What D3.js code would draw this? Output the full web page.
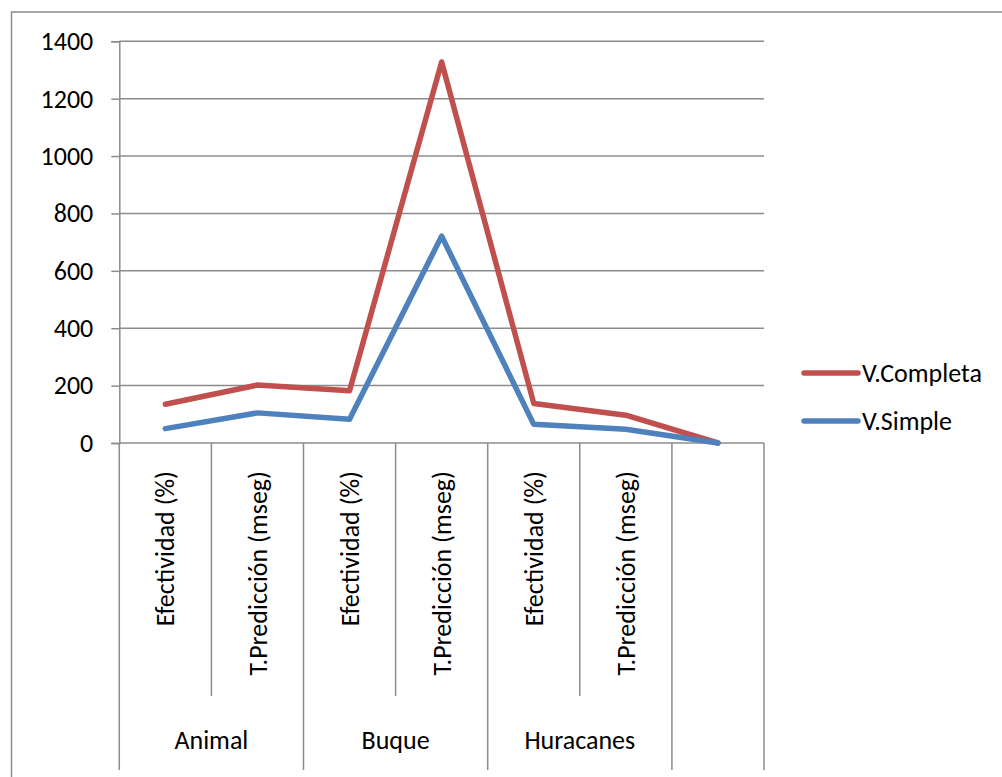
<!DOCTYPE html>
<html>
<head>
<meta charset="utf-8">
<script src="https://cdn.jsdelivr.net/npm/d3@7"></script>
<style>
  html, body { margin: 0; padding: 0; background: #fff; }
  svg { display: block; }
  text { font-family: Carlito, Lato, "Open Sans", sans-serif; fill: #000; }
</style>
</head>
<body>
<svg id="chart" width="1002" height="777"></svg>
<script>
// Category axis: groups and their sub-categories (last slot is an empty group)
const groups = ["Animal", "Buque", "Huracanes", ""];
const subLabels = ["Efectividad (%)", "T.Predicción (mseg)",
                   "Efectividad (%)", "T.Predicción (mseg)",
                   "Efectividad (%)", "T.Predicción (mseg)", ""];
const subGroup = [0, 0, 1, 1, 2, 2, 3];

// Series values
const seriesNames = ["V.Completa", "V.Simple"];
const completa = [135, 202, 182, 1328, 138, 97, 0];
const simple = [50, 105, 83, 721, 65, 48, 0];

// Value axis ticks
const yTicks = [0, 200, 400, 600, 800, 1000, 1200, 1400];

const colors = ["#C0504D", "#4F81BD"];
const gridColor = "#8c8c8c";

const svg = d3.select("#chart");
const plotLeft = 119.3, plotRight = 764, plotTop = 41.3, plotBottom = 443;
const fontSize = 26;

// Outer chart frame
svg.append("rect")
  .attr("x", 11.5).attr("y", 12)
  .attr("width", 1200).attr("height", 1200)
  .attr("fill", "none").attr("stroke", gridColor).attr("stroke-width", 1.5);

const idx = d3.range(subLabels.length);
const x = d3.scaleBand().domain(idx).range([plotLeft, plotRight]).padding(0);
const y = d3.scaleLinear().domain([0, 1400]).range([plotBottom, plotTop]);

// Value axis with gridlines
const yAxis = svg.append("g")
  .attr("transform", `translate(${plotLeft},0)`)
  .call(d3.axisLeft(y).tickValues(yTicks).tickSize(8).tickPadding(18).tickFormat(d3.format("d")));
yAxis.select(".domain").attr("stroke", gridColor).attr("stroke-width", 1.5);
yAxis.selectAll(".tick line").attr("stroke", gridColor).attr("stroke-width", 1.5);
yAxis.selectAll(".tick text")
  .style("font-size", fontSize + "px")
  .style("font-family", "Carlito, Lato, 'Open Sans', sans-serif")
  .attr("fill", "#000");

svg.append("g").selectAll("line").data(yTicks).join("line")
  .attr("x1", plotLeft).attr("x2", plotRight)
  .attr("y1", d => y(d)).attr("y2", d => y(d))
  .attr("stroke", gridColor).attr("stroke-width", 1.5);

// Category axis: separators between sub-categories and between groups
const catAxis = svg.append("g");
const bounds = d3.range(subLabels.length + 1);
bounds.forEach(i => {
  const bx = i < subLabels.length ? x(i) : plotRight;
  const isGroupEdge = i === 0 || i === subLabels.length || subGroup[i] !== subGroup[i - 1];
  catAxis.append("line")
    .attr("x1", bx).attr("x2", bx)
    .attr("y1", plotBottom).attr("y2", isGroupEdge ? 770 : 696)
    .attr("stroke", gridColor).attr("stroke-width", 1.5);
});

// Rotated sub-category labels
catAxis.selectAll("text.sub").data(idx).join("text")
  .attr("class", "sub")
  .attr("transform", i => `translate(${x(i) + x.bandwidth() / 2},471) rotate(-90)`)
  .attr("text-anchor", "end")
  .attr("dy", "0.35em")
  .style("font-size", fontSize + "px")
  .text(i => subLabels[i]);

// Group labels centred under their sub-categories
catAxis.selectAll("text.grp").data(groups).join("text")
  .attr("class", "grp")
  .attr("x", (g, gi) => {
    const members = idx.filter(i => subGroup[i] === gi);
    return (x(members[0]) + x(members[members.length - 1]) + x.bandwidth()) / 2;
  })
  .attr("y", 740)
  .attr("dy", "0.35em")
  .attr("text-anchor", "middle")
  .style("font-size", fontSize + "px")
  .text(g => g);

// Series lines
const line = d3.line()
  .x((d, i) => x(i) + x.bandwidth() / 2)
  .y(d => y(d));

[completa, simple].forEach((vals, si) => {
  svg.append("path")
    .datum(vals)
    .attr("d", line)
    .attr("fill", "none")
    .attr("stroke", colors[si])
    .attr("stroke-width", 5.5)
    .attr("stroke-linejoin", "round")
    .attr("stroke-linecap", "round");
});

// Legend
const legend = svg.append("g");
seriesNames.forEach((name, si) => {
  const ly = 373 + si * 48;
  legend.append("line")
    .attr("x1", 804).attr("x2", 858)
    .attr("y1", ly).attr("y2", ly)
    .attr("stroke", colors[si]).attr("stroke-width", 5.5)
    .attr("stroke-linecap", "round");
  legend.append("text")
    .attr("x", 862).attr("y", ly)
    .attr("dy", "0.35em")
    .style("font-size", fontSize + "px")
    .text(name);
});
</script>
</body>
</html>
